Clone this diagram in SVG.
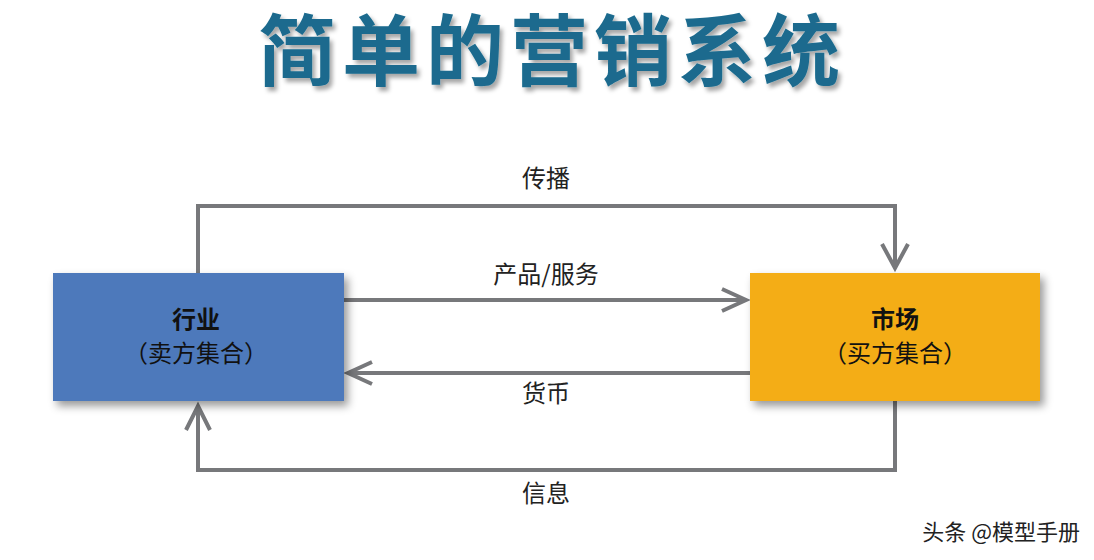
<svg xmlns="http://www.w3.org/2000/svg" width="1094" height="560" viewBox="0 0 1094 560">
<style>
.t{font-family:"Noto Sans CJK SC","Liberation Sans",sans-serif;text-anchor:middle}
.lbl{font-size:24px;fill:#222}
.c{fill:none;stroke:#77787b;stroke-width:4}
.h{fill:none;stroke:#77787b;stroke-width:4;stroke-linejoin:miter}
</style>
<defs>
<filter id="sh" x="-10%" y="-10%" width="130%" height="140%"><feDropShadow dx="4" dy="5" stdDeviation="4" flood-color="#000" flood-opacity="0.4"/></filter>
<filter id="ts" x="-5%" y="-5%" width="110%" height="130%"><feDropShadow dx="3" dy="4" stdDeviation="2" flood-color="#000" flood-opacity="0.35"/></filter>
</defs>
<rect width="1094" height="560" fill="#fff"/>
<text class="t" x="552" y="80" font-size="78" font-weight="bold" letter-spacing="6" fill="#1b6b8e" filter="url(#ts)">简单的营销系统</text>
<g id="connectors">
<path class="c" d="M198 273 V206 H895 V268"/>
<path class="h" d="M882 244 L895 268 L908 244"/>
<path class="c" d="M344 300 H746"/>
<path class="h" d="M722 289 L746 300 L722 311"/>
<path class="c" d="M750 373 H348"/>
<path class="h" d="M372 362 L348 373 L372 384"/>
<path class="c" d="M895 401 V470 H198 V406"/>
<path class="h" d="M186 430 L198 406 L210 430"/>
<text class="t lbl" x="546" y="187">传播</text>
<text class="t lbl" x="546" y="283">产品/服务</text>
<text class="t lbl" x="546" y="402">货币</text>
<text class="t lbl" x="546" y="502">信息</text>
</g>
<g id="industry">
<rect x="53" y="273" width="291" height="128" fill="#4e79bb" filter="url(#sh)"/>
<text class="t" x="196" y="328" font-size="24" font-weight="bold" fill="#111">行业</text>
<text class="t" x="196" y="362" font-size="24" fill="#111">（卖方集合）</text>
</g>
<g id="market">
<rect x="750" y="273" width="290" height="128" fill="#f4ad18" filter="url(#sh)"/>
<text class="t" x="895" y="328" font-size="24" font-weight="bold" fill="#111">市场</text>
<text class="t" x="895" y="362" font-size="24" fill="#111">（买方集合）</text>
</g>
<text x="1080" y="540" font-family="Noto Sans CJK SC, sans-serif" font-size="22" fill="#222" text-anchor="end">头条 @模型手册</text>
</svg>
